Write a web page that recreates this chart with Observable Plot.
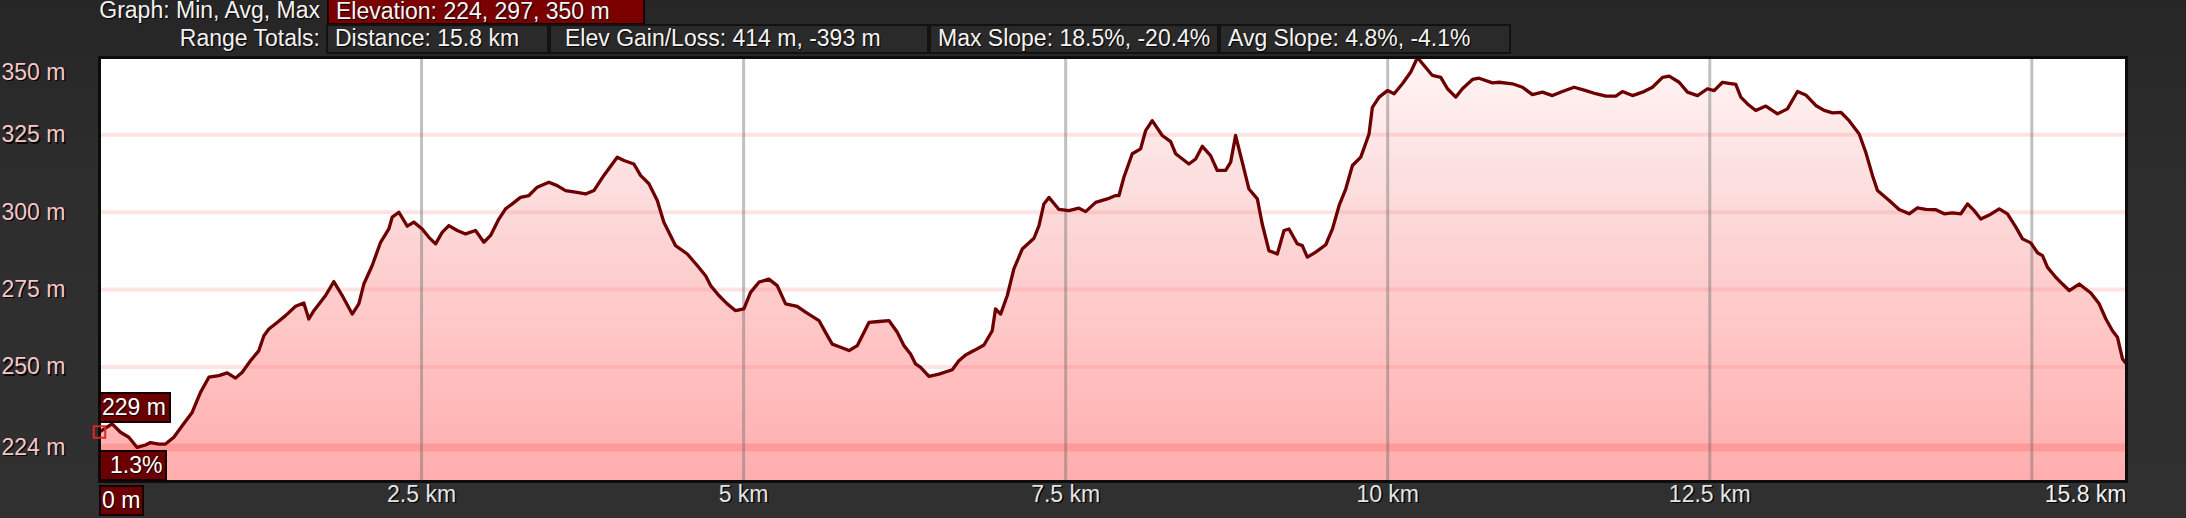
<!DOCTYPE html>
<html>
<head>
<meta charset="utf-8">
<script src="https://cdn.jsdelivr.net/npm/d3@7"></script>
<script src="https://cdn.jsdelivr.net/npm/@observablehq/plot@0.6"></script>
<style>
  html, body { margin: 0; padding: 0; }
  body {
    width: 2186px; height: 518px; overflow: hidden; position: relative;
    background: linear-gradient(180deg, #262626 0%, #2e2e2e 40%, #303030 100%);
    font-family: "Liberation Sans", Arial, sans-serif; font-size: 23px;
  }
  #chart { position: absolute; left: 0; top: 0; }
  .hlbl { position: absolute; color: #f2f2f2; text-align: right; white-space: nowrap;
          text-shadow: 1px 1px 1px #000; }
  .hbox { position: absolute; box-sizing: border-box; white-space: nowrap; color: #f4f4f4;
          text-shadow: 1px 1px 1px #000; padding-left: 7px; }
  .dark { background: #2a2a2a; border: 2px solid #121212; height: 30px; line-height: 25px; top: 24px; }
  .red  { background: #7a0000; border: 2px solid #1a0000; top: -6px; height: 31px; line-height: 31px; }
  .tag  { position: absolute; box-sizing: border-box; background: #6a0000; border: 2px solid #140000;
          color: #fff; white-space: nowrap; text-shadow: 1px 1px 1px #000; line-height: 27px; height: 31px; }
</style>
</head>
<body>
<div id="chart"></div>
<div class="hlbl" style="left:0; width:320px; top:-3px; line-height:26px;">Graph: Min, Avg, Max</div>
<div class="hbox red" style="left:327px; width:318px;">Elevation: 224, 297, 350 m</div>
<div class="hlbl" style="left:0; width:320px; top:26px; line-height:25px;">Range Totals:</div>
<div class="hbox dark" style="left:326px; width:223px;">Distance: 15.8 km</div>
<div class="hbox dark" style="left:549px; width:380px; padding-left:14px;">Elev Gain/Loss: 414 m, -393 m</div>
<div class="hbox dark" style="left:929px; width:290px;">Max Slope: 18.5%, -20.4%</div>
<div class="hbox dark" style="left:1219px; width:292px;">Avg Slope: 4.8%, -4.1%</div>
<script>
// Distance along the route (km) and elevation (m)
const distKm = [
  0, 0.098, 0.163, 0.228, 0.292, 0.357, 0.396, 0.461, 0.512, 0.577, 0.642, 0.719, 0.784, 0.849, 0.927, 0.991,
  1.056, 1.108, 1.172, 1.237, 1.276, 1.315, 1.379, 1.444, 1.522, 1.586, 1.625, 1.664, 1.755, 1.819, 1.884, 1.962,
  2.013, 2.052, 2.117, 2.182, 2.246, 2.272, 2.324, 2.389, 2.440, 2.505, 2.557, 2.609, 2.660, 2.712, 2.777, 2.842,
  2.919, 2.984, 3.036, 3.100, 3.152, 3.204, 3.268, 3.333, 3.398, 3.488, 3.553, 3.618, 3.695, 3.773, 3.838, 3.915,
  4.019, 4.071, 4.148, 4.200, 4.265, 4.330, 4.381, 4.472, 4.563, 4.640, 4.705, 4.744, 4.808, 4.873, 4.938, 5.002,
  5.054, 5.119, 5.196, 5.261, 5.326, 5.416, 5.481, 5.585, 5.636, 5.688, 5.753, 5.818, 5.882, 5.973, 6.051, 6.128,
  6.193, 6.245, 6.296, 6.335, 6.374, 6.439, 6.516, 6.620, 6.671, 6.723, 6.788, 6.866, 6.930, 6.956, 6.995, 7.047,
  7.098, 7.163, 7.254, 7.293, 7.331, 7.370, 7.448, 7.525, 7.603, 7.655, 7.733, 7.823, 7.888, 7.914, 7.952, 8.017,
  8.082, 8.121, 8.172, 8.250, 8.315, 8.354, 8.457, 8.509, 8.561, 8.625, 8.677, 8.742, 8.781, 8.819, 8.871, 8.923,
  8.988, 9.026, 9.078, 9.143, 9.195, 9.234, 9.298, 9.337, 9.376, 9.441, 9.519, 9.571, 9.623, 9.674, 9.726, 9.791,
  9.855, 9.881, 9.933, 9.998, 10.050, 10.114, 10.179, 10.231, 10.282, 10.347, 10.412, 10.464, 10.528, 10.580, 10.658, 10.709,
  10.813, 10.865, 10.968, 11.046, 11.123, 11.201, 11.279, 11.356, 11.447, 11.538, 11.615, 11.693, 11.770, 11.822, 11.900, 11.978,
  12.055, 12.133, 12.185, 12.262, 12.327, 12.405, 12.482, 12.534, 12.599, 12.702, 12.741, 12.793, 12.857, 12.935, 13.026, 13.103,
  13.181, 13.245, 13.323, 13.388, 13.453, 13.517, 13.582, 13.660, 13.711, 13.763, 13.802, 13.893, 13.970, 14.048, 14.112, 14.177,
  14.255, 14.320, 14.384, 14.449, 14.501, 14.553, 14.604, 14.669, 14.747, 14.811, 14.876, 14.928, 14.992, 15.044, 15.083, 15.122,
  15.186, 15.238, 15.290, 15.368, 15.458, 15.523, 15.575, 15.626, 15.665, 15.704, 15.735
];
const elevM = [
  229, 231.6, 228.9, 227.3, 224.0, 224.8, 225.6, 225.1, 225.1, 227.3, 231.0, 235.3, 241.8, 246.7, 247.2, 248.1,
  246.4, 248.3, 252.0, 255.3, 260.1, 262.3, 264.4, 266.6, 269.6, 270.7, 265.5, 268.2, 273.1, 277.6, 273.1, 267.1,
  270.4, 276.8, 282.8, 290.3, 294.6, 298.4, 300.0, 295.5, 296.8, 294.6, 291.9, 289.8, 293.5, 295.7, 294.1, 293.0,
  294.1, 290.3, 292.5, 297.8, 301.1, 302.7, 304.8, 305.4, 308.1, 309.7, 308.6, 307.0, 306.5, 305.9, 307.0, 311.9,
  317.8, 316.7, 315.6, 311.9, 309.2, 303.8, 296.8, 289.2, 286.5, 282.8, 279.5, 276.3, 273.1, 270.4, 268.2, 268.8,
  274.1, 277.4, 278.4, 276.3, 270.4, 269.6, 267.7, 265.0, 261.2, 257.4, 256.4, 255.3, 256.9, 264.4, 264.7, 265.0,
  261.2, 256.9, 254.2, 251.0, 249.9, 247.0, 247.7, 249.1, 252.0, 253.9, 255.3, 257.1, 261.7, 268.8, 267.1, 273.1,
  281.7, 288.1, 291.6, 295.7, 302.7, 304.8, 300.9, 300.5, 301.3, 300.2, 303.2, 304.3, 305.4, 305.4, 311.3, 318.9,
  320.5, 326.4, 329.6, 324.8, 322.8, 318.9, 315.6, 317.2, 321.3, 318.3, 313.5, 313.5, 316.2, 324.8, 316.2, 307.5,
  304.3, 296.2, 287.6, 286.5, 294.1, 294.6, 289.8, 289.2, 285.5, 287.1, 289.5, 294.6, 302.2, 307.5, 315.1, 317.8,
  325.3, 333.9, 337.2, 339.3, 338.3, 341.5, 345.3, 350.0, 347.4, 344.2, 343.6, 339.9, 337.2, 339.9, 342.9, 343.3,
  341.8, 342.0, 341.5, 340.4, 338.0, 338.8, 337.7, 339.0, 340.4, 339.3, 338.3, 337.5, 337.5, 339.0, 337.7, 338.8,
  340.4, 343.6, 344.0, 342.0, 338.8, 337.7, 339.9, 339.3, 342.0, 341.3, 337.2, 335.0, 332.9, 334.3, 331.8, 333.4,
  339.0, 337.9, 334.5, 332.9, 332.1, 332.3, 329.6, 325.3, 319.4, 311.9, 307.0, 303.8, 300.9, 299.5, 301.4, 300.9,
  300.8, 299.5, 299.8, 299.5, 302.7, 300.5, 297.8, 299.1, 301.1, 299.5, 295.2, 291.4, 290.1, 286.9, 286.0, 282.2,
  279.0, 276.8, 274.7, 276.8, 273.9, 270.4, 265.5, 261.7, 259.6, 252.6, 251.0
];
const yTicks = [224, 250, 275, 300, 325];
const yTopTick = [350];
const xGrid = [2.5, 5, 7.5, 10, 12.5, 15];
const xTickLabels = [2.5, 5, 7.5, 10, 12.5];
const xEndLabel = [{km: 15.735, label: "15.8 km"}];
const startLabel = "229 m";
const startSlope = "1.3%";
const originLabel = "0 m";

const data = distKm.map((d, i) => ({km: d, elev: elevM[i]}));
const yMin = 213, yMax = 350;

const gridY = [250, 275, 300, 325];
const font = "'Liberation Sans', Arial, sans-serif";

const shadowText = (values, opts, color) => [
  Plot.text(values, {...opts, fill: "#000", dx: (opts.dx || 0) + 1.5, dy: (opts.dy || 0) + 1.5, fillOpacity: 0.9}),
  Plot.text(values, {...opts, fill: color})
];

const plot = Plot.plot({
  width: 2186,
  height: 518,
  marginTop: 57,
  marginBottom: 37,
  marginLeft: 99,
  marginRight: 60,
  style: {background: "transparent", fontFamily: font, fontSize: "23px", overflow: "visible"},
  x: {domain: [0, 15.735], axis: null},
  y: {domain: [yMin, yMax], axis: null},
  marks: [
    Plot.frame({fill: "#ffffff"}),
    Plot.areaY(data, {x: "km", y1: yMin, y2: "elev", fill: "url(#elevGrad)", curve: "linear"}),
    Plot.ruleY(gridY, {stroke: "rgb(255,126,126)", strokeOpacity: 0.22, strokeWidth: 4}),
    Plot.ruleY([224], {stroke: "rgb(255,110,110)", strokeOpacity: 0.35, strokeWidth: 8}),
    Plot.ruleX(xGrid, {stroke: "rgb(105,105,105)", strokeOpacity: 0.42, strokeWidth: 3}),
    Plot.line(data, {x: "km", y: "elev", stroke: "#6c0000", strokeWidth: 3.3, strokeLinejoin: "round"}),
    Plot.frame({stroke: "#0c0c0c", strokeWidth: 3}),
    Plot.dot([data[0]], {x: "km", y: "elev", symbol: "square", r: 6.5, stroke: "#e02424", strokeWidth: 2, fill: "none"}),
    ...shadowText(yTicks, {y: d => d, frameAnchor: "left", dx: -98, textAnchor: "start", text: d => d + " m"}, "#f6c6c6"),
    ...shadowText(yTopTick, {y: d => d, frameAnchor: "left", dx: -98, dy: 15, textAnchor: "start", text: d => d + " m"}, "#f6c6c6"),
    ...shadowText(xTickLabels, {x: d => d, frameAnchor: "bottom", dy: 20, textAnchor: "middle", text: d => d + " km"}, "#e4e4e4"),
    ...shadowText(xEndLabel, {x: "km", frameAnchor: "bottom", dy: 20, textAnchor: "end", text: "label"}, "#f0f0f0")
  ]
});

// gradient definition for the area fill
const ns = "http://www.w3.org/2000/svg";
const defs = document.createElementNS(ns, "defs");
const grad = document.createElementNS(ns, "linearGradient");
grad.setAttribute("id", "elevGrad");
grad.setAttribute("gradientUnits", "userSpaceOnUse");
grad.setAttribute("x1", "0"); grad.setAttribute("x2", "0");
grad.setAttribute("y1", "57"); grad.setAttribute("y2", "481");
[["0", "#fff5f5"], ["0.35", "#fcdada"], ["0.7", "#ffc2c2"], ["1", "#ffadad"]].forEach(([o, c]) => {
  const s = document.createElementNS(ns, "stop");
  s.setAttribute("offset", o); s.setAttribute("stop-color", c);
  grad.appendChild(s);
});
defs.appendChild(grad);
plot.insertBefore(defs, plot.firstChild);
document.getElementById("chart").append(plot);

// annotation tags placed from the chart's own scales
const sx = plot.scale("x"), sy = plot.scale("y");
const x0 = sx.apply(0);
function tag(text, left, top, width, extra) {
  const el = document.createElement("div");
  el.className = "tag";
  el.textContent = text;
  el.style.left = left + "px";
  el.style.top = top + "px";
  el.style.width = width + "px";
  Object.assign(el.style, extra || {});
  document.body.appendChild(el);
}
tag(startLabel, x0, sy.apply(elevM[0]) - 39, 72, {paddingLeft: "1px"});
tag(startSlope, x0, sy.apply(yMin) - 31, 68, {paddingLeft: "9px"});
tag(originLabel, x0, sy.apply(yMin) + 4, 45, {paddingLeft: "1px"});
</script>
</body>
</html>
